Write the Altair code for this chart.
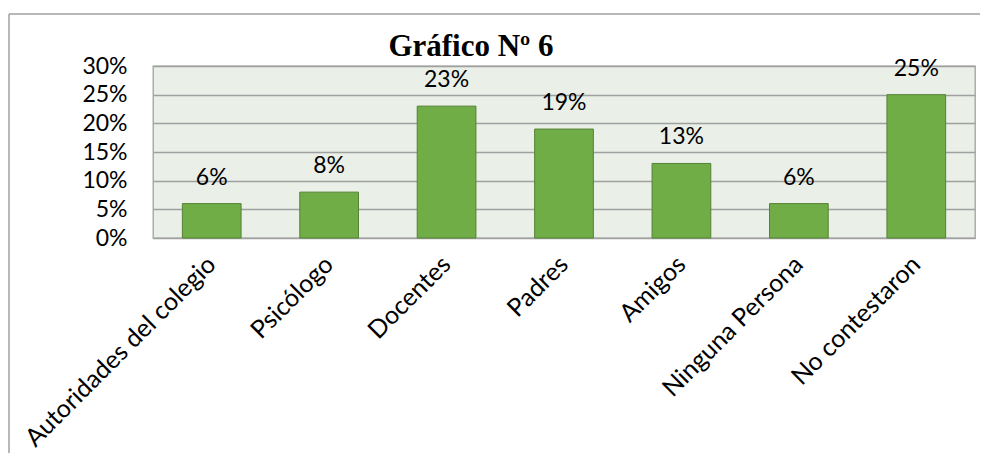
import altair as alt
import pandas as pd

categorias = ["Autoridades del colegio", "Psicólogo", "Docentes", "Padres",
              "Amigos", "Ninguna Persona", "No contestaron"]
porcentajes = [0.06, 0.08, 0.23, 0.19, 0.13, 0.06, 0.25]
y_ticks = [0.0, 0.05, 0.10, 0.15, 0.20, 0.25, 0.30]
titulo = ["Gráfico Nº 6"]

df = pd.DataFrame({"cat": categorias, "val": porcentajes})
FONT = "Lato"
GRAY = "#A0A0A0"

x = alt.X("cat:N", sort=categorias, title=None,
          scale=alt.Scale(paddingInner=0.5, paddingOuter=0.25),
          axis=alt.Axis(labelAngle=-45, labelAlign="right", labelBaseline="middle",
                        labelPadding=22, ticks=False, domain=True, domainColor=GRAY,
                        labelFont=FONT, labelFontSize=25, labelColor="black",
                        labelLimit=0, labelOverlap=False))
y = alt.Y("val:Q", title=None, scale=alt.Scale(domain=[0, 0.3], nice=False),
          axis=alt.Axis(values=y_ticks, format=".0%", grid=True, gridColor=GRAY,
                        gridWidth=1.3, domain=False, ticks=False, labelPadding=26,
                        labelFont=FONT, labelFontSize=23, labelColor="black",
                        labelFlush=False, labelOverlap=False, tickCount=7))

base = alt.Chart(df)
bars = base.mark_bar(color="#70AD47", stroke="#548235", strokeWidth=1).encode(x=x, y=y)
labels = base.mark_text(font=FONT, fontSize=23, color="black", baseline="alphabetic",
                        align="center", dy=-19).encode(
    x=x, y=y,
    text=alt.Text("val:Q", format=".0%"))

one = pd.DataFrame({"t": titulo})
title = alt.Chart(one).mark_text(font="Liberation Serif", fontSize=31, fontWeight="bold",
                                 baseline="alphabetic", align="center", color="black").encode(
    text="t:N", x=alt.value(318), y=alt.value(-10))
border_left = alt.Chart(one).mark_rule(color=GRAY, strokeWidth=1.5).encode(
    x=alt.value(-144), y=alt.value(-52), y2=alt.value(400))
border_top = alt.Chart(one).mark_rule(color=GRAY, strokeWidth=1.5).encode(
    x=alt.value(-144), x2=alt.value(840), y=alt.value(-52))

chart = alt.layer(bars, labels, title, border_left, border_top).properties(
    width=822, height=172,
    autosize=alt.AutoSizeParams(type="none"),
    padding={"left": 145, "top": 58, "right": 5, "bottom": 215},
    background="white",
).configure_view(stroke=GRAY, strokeWidth=1.3, fill="#EAEFE8")

chart.save("out.html", embed_options={"renderer": "svg", "actions": False})
